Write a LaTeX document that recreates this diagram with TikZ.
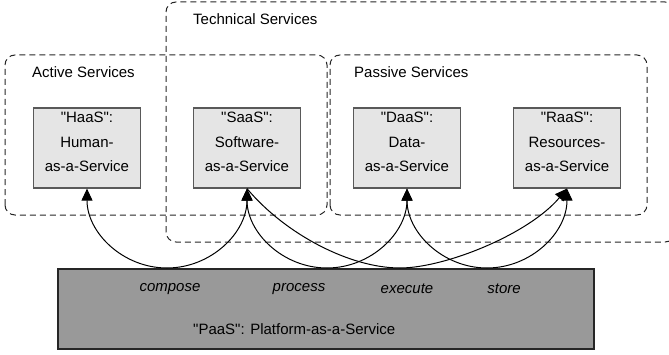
\documentclass[tikz,border=0pt]{standalone}
\usepackage{fontspec}
\newfontfamily\lsans{Liberation Sans}
\usetikzlibrary{arrows.meta}
\begin{document}
\begin{tikzpicture}[x=1pt,y=1pt,
  font=\lsans\fontsize{15}{24.5}\selectfont,
  group/.style={draw=black!85, line width=1pt, dash pattern=on 6pt off 4pt, rounded corners=10pt},
  grouplabel/.style={anchor=west, inner sep=0pt},
  svc/.style={draw=black!65, fill=black!10, line width=1.2pt, minimum width=107pt, minimum height=80pt, inner sep=0pt},
  svctext/.style={align=center, inner sep=0pt},
  paas/.style={draw=black!85, fill=black!40, line width=1.5pt, minimum width=536pt, minimum height=80pt, inner sep=0pt},
  verb/.style={font=\lsans\fontsize{15}{24}\selectfont\itshape, inner sep=0pt},
  link/.style={line width=1pt, draw=black},
  tip/.tip={Triangle[length=12pt,width=11pt]}
]
\useasboundingbox (0,0) rectangle (669,354);
% containers
\draw[group] (166,112) rectangle (675,352);
\node[grouplabel] (tlab) at (193,335) {Technical Services};
\draw[group] (5,139) rectangle (327,299);
\node[grouplabel] (alab) at (32,282) {Active Services};
\draw[group] (330,139) rectangle (647,299);
\node[grouplabel] (plab) at (354,282) {Passive Services};
% platform
\node[paas] (paas) at (326,45) {};
\node[grouplabel] (paastext) at (193,25) {"PaaS": Platform-as-a-Service};
\node[verb] (compose) at (170,65) {compose};
\node[verb] (process) at (299,65) {process};
\node[verb] (execute) at (407,65) {execute};
\node[verb] (store) at (504,65) {store};
% curve bottoms
\coordinate (b1) at (167,86);
\coordinate (b2) at (327,86);
\coordinate (b3) at (487,86);
\coordinate (be) at (400,86);
% services
\node[svc] (haas) at (87,206) {};
\node[svc] (saas) at (247,206) {};
\node[svc] (daas) at (407,206) {};
\node[svc] (raas) at (567,206) {};
\node[svctext] (haast) at ([yshift=6pt]haas.center) {"HaaS":\\Human-\\as-a-Service};
\node[svctext] (saast) at ([yshift=6pt]saas.center) {"SaaS":\\Software-\\as-a-Service};
\node[svctext] (daast) at ([yshift=6pt]daas.center) {"DaaS":\\Data-\\as-a-Service};
\node[svctext] (raast) at ([yshift=6pt]raas.center) {"RaaS":\\Resources-\\as-a-Service};
% connectors
\draw[link, tip-tip] (haas.south) to[out=-90,in=180] (b1) to[out=0,in=-90] (saas.south);
\draw[link, tip-tip] (saas.south) to[out=-90,in=180] (b2) to[out=0,in=-90] (daas.south);
\draw[link, tip-tip] (daas.south) to[out=-90,in=180] (b3) to[out=0,in=-90] (raas.south);
\draw[link, -tip] (saas.south) to[out=-50,in=180,out looseness=0.89,in looseness=0.74] (be)
  to[out=0,in=-130,out looseness=0.62,in looseness=0.83] (raas.south);
\end{tikzpicture}
\end{document}
